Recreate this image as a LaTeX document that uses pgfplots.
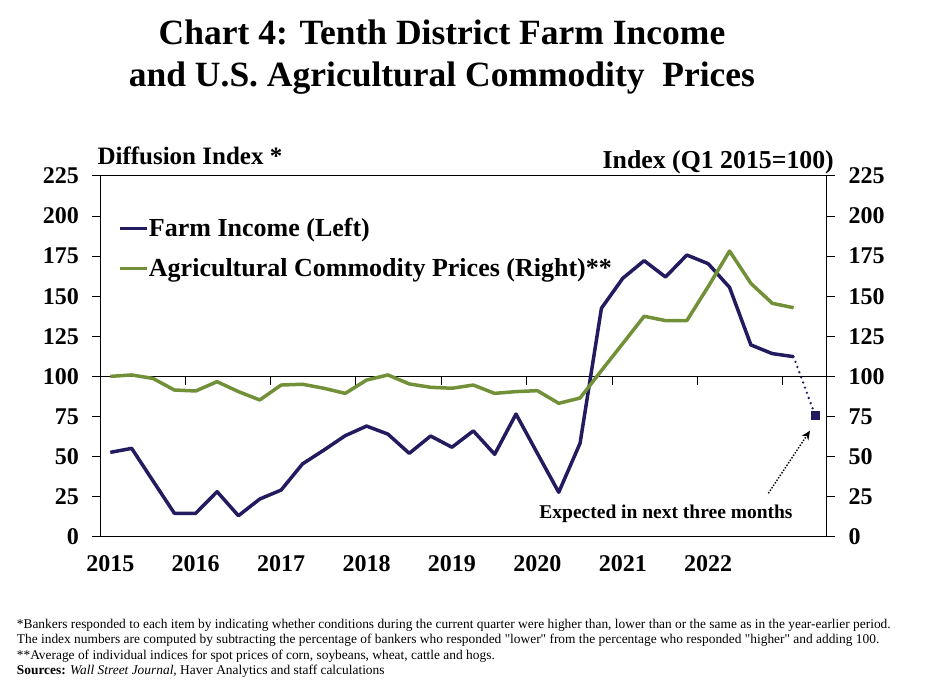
\documentclass[border=0pt]{standalone}
\usepackage{fontspec}
\setmainfont{Liberation Serif}
\usepackage{pgfplots}
\pgfplotsset{compat=1.18}
\usepackage{pgfplotstable}
\usetikzlibrary{arrows.meta}

\definecolor{farmnavy}{RGB}{35,27,95}
\definecolor{priceolive}{RGB}{114,144,56}

% quarters counted from Q1 2015 = 0
\pgfplotstableread{
q income
0 52.6
1 55.1
2 34.8
3 14.6
4 14.6
5 28.1
6 13.1
7 23.5
8 29.1
9 45.4
10 54.0
11 63.0
12 69.0
13 64.0
14 52.0
15 62.8
16 55.8
17 66.0
18 51.4
19 76.5
20 52.0
21 27.7
22 58.3
23 142.5
24 161.2
25 172.2
26 162.0
27 175.7
28 170.3
29 155.5
30 119.6
31 114.2
32 112.3
}\farmincome

\pgfplotstableread{
q income
32 112.3
33 76.0
}\expected

\pgfplotstableread{
q prices
0 100.0
1 100.9
2 98.7
3 91.5
4 90.9
5 96.7
6 90.5
7 85.3
8 94.6
9 95.1
10 92.6
11 89.4
12 97.7
13 100.9
14 95.3
15 93.2
16 92.6
17 94.6
18 89.4
19 90.5
20 91.1
21 83.2
22 86.5
23 103.6
24 120.5
25 137.5
26 134.8
27 134.8
28 156.0
29 178.2
30 158.0
31 145.6
32 142.8
}\commodity

\pgfplotsset{
  chartbase/.style={
    at={(100.7pt,156.3pt)}, anchor=south west,
    scale only axis, width=726pt, height=360.7pt,
    xmin=-0.45, xmax=33.55, ymin=0, ymax=225,
    ytick={0,25,...,225},
    tick align=outside, major tick length=8.3pt,
    tick style={line width=1pt, black},
    axis line style={line width=1pt},
    tick label style={font=\fontsize{24}{28}\selectfont\bfseries},
    /pgf/number format/assume math mode=true,
    clip=false,
  },
}

\begin{document}
\begin{tikzpicture}[x=1pt,y=1pt]
\path[use as bounding box] (0,0) rectangle (925,693);

\node[font=\fontsize{35.5}{42}\selectfont\bfseries, align=center] at (442,636)
  {Chart 4: Tenth District Farm Income\\and U.S. Agricultural Commodity\ \ Prices};

\begin{axis}[chartbase,
  ytick pos=left,
  xtick={0,4,...,28},
  xticklabels={2015,2016,2017,2018,2019,2020,2021,2022},
  xtick style={draw=none},
  x tick label style={anchor=center, yshift=-19pt},
  yticklabel style={anchor=east, xshift=-10pt},
]
\draw[line width=1pt] (axis cs:-0.45,100) -- (axis cs:33.55,100);
\pgfplotsinvokeforeach{3.5,7.5,...,31.5}{
  \draw[line width=1pt] (axis cs:#1,100) -- ++(0pt,-9pt);
}
\addplot[farmnavy, line width=3.5pt, line join=round] table[x=q, y=income] {\farmincome};
\addplot[farmnavy, line width=2.6pt, line cap=round, dash pattern=on 0pt off 5.5pt] table[x=q, y=income] {\expected};
\addplot[only marks, mark=square*, mark size=4pt, farmnavy] coordinates {(33,76)};
\end{axis}

\begin{axis}[chartbase,
  axis x line=none, axis y line*=right,
  yticklabel style={anchor=west, xshift=10pt},
  legend style={at={(rel axis cs:0.0242,0.8816)}, anchor=north west,
    draw=none, fill=none, inner sep=0pt, row sep=16pt, column sep=0pt,
    font=\fontsize{26}{30}\selectfont\bfseries,
    nodes={inner sep=0pt, text height=18pt, text depth=6pt}},
  legend cell align=left,
  legend image code/.code={\draw[#1] (0pt,2.5pt) -- (27pt,2.5pt);},
]
\addlegendimage{farmnavy, line width=3.5pt}
\addlegendentry{Farm Income (Left)}
\addplot[priceolive, line width=3.5pt, line join=round] table[x=q, y=prices] {\commodity};
\addlegendentry{Agricultural Commodity Prices (Right)**}
\end{axis}

\node[anchor=base west, inner sep=0pt, font=\fontsize{25}{30}\selectfont\bfseries] at (97.3,528) {Diffusion Index *};
\node[anchor=base east, inner sep=0pt, font=\fontsize{25.8}{30}\selectfont\bfseries] at (834,524.7) {Index (Q1 2015=100)};

\node[anchor=base, inner sep=0pt, font=\fontsize{19.5}{24}\selectfont\bfseries] at (666,174.7) {Expected in next three months};
\draw[line width=1.4pt, dash pattern=on 1.4pt off 1.6pt, -{Stealth[open, length=9pt, width=8pt]}] (768.3,199.7) -- (810,262.3);

\begin{scope}[every node/.style={anchor=base west, inner sep=0pt, font=\fontsize{13.4}{16}\selectfont}]
\node at (16.7,64.7) {*Bankers responded to each item by indicating whether conditions during the current quarter were higher than, lower than or the same as in the year-earlier period.};
\node at (16.7,49.7) {The index numbers are computed by subtracting the percentage of bankers who responded \textquotedbl lower\textquotedbl{} from the percentage who responded \textquotedbl higher\textquotedbl{} and adding 100.};
\node at (16.7,34) {**Average of individual indices for spot prices of corn, soybeans, wheat, cattle and hogs.};
\node at (16.7,19) {\textbf{Sources:} \textit{Wall Street Journal,} Haver Analytics and staff calculations};
\end{scope}
\end{tikzpicture}
\end{document}
